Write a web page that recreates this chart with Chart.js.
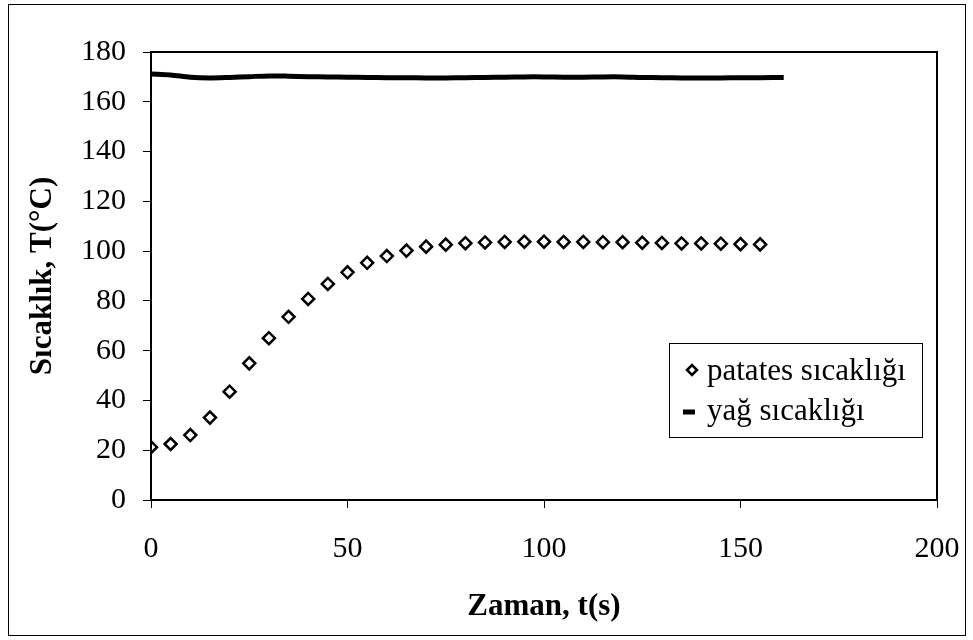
<!DOCTYPE html>
<html>
<head>
<meta charset="utf-8">
<script src="https://cdn.jsdelivr.net/npm/chart.js@4.4.1/dist/chart.umd.min.js"></script>
<style>
  html, body { margin: 0; background: #fff; }
  #wrap { width: 973px; height: 640px; }
</style>
</head>
<body>
<div id="wrap"><canvas id="tempChart" width="973" height="640"></canvas></div>
<script>
// Potato core temperature, sampled every 5 s
const potatoTime = [0, 5, 10, 15, 20, 25, 30, 35, 40, 45, 50, 55, 60, 65, 70, 75,
                    80, 85, 90, 95, 100, 105, 110, 115, 120, 125, 130, 135, 140, 145, 150, 155];
const potatoTemp = [21.2, 22.5, 26.1, 33.1, 43.5, 54.9, 65.0, 73.6, 80.8, 86.8, 91.5, 95.3, 98.0, 100.2, 101.8, 102.6,
                    103.2, 103.5, 103.7, 103.8, 103.8, 103.7, 103.7, 103.6, 103.6, 103.4, 103.3, 103.1, 103.1, 103.0, 102.8, 102.7];

// Frying oil temperature
const oilTime = [0, 5, 10, 15, 20, 25, 30, 35, 40, 45, 50, 55, 60, 65, 70, 75, 80,
                 85, 90, 95, 100, 105, 110, 115, 120, 125, 130, 135, 140, 145, 150, 155, 161];
const oilTemp = [171.2, 170.8, 169.9, 169.6, 169.8, 170.1, 170.4, 170.3, 170.1, 170.0, 169.9, 169.8, 169.7, 169.7, 169.6, 169.6, 169.7,
                 169.8, 169.9, 170.0, 170.0, 169.9, 169.9, 170.0, 170.0, 169.8, 169.7, 169.6, 169.6, 169.6, 169.7, 169.7, 169.8];

const xTicks = [0, 50, 100, 150, 200];
const yTicks = [0, 20, 40, 60, 80, 100, 120, 140, 160, 180];

const labels = ['patates sıcaklığı', 'yağ sıcaklığı'];

const serif = "'Liberation Serif', 'Times New Roman', serif";

// Frame around the plot area, the outer border and the boxed legend
const framePlugin = {
    id: 'frame',
    afterDatasetsDraw(chart) {
        const { ctx, chartArea: a } = chart;
        ctx.save();
        ctx.strokeStyle = '#000';
        ctx.lineWidth = 2;
        ctx.strokeRect(a.left, a.top, a.right - a.left, a.bottom - a.top);
        ctx.restore();
    },
    afterDraw(chart) {
        const ctx = chart.ctx;
        ctx.save();
        ctx.strokeStyle = '#000';
        ctx.lineWidth = 1;
        ctx.strokeRect(8.5, 4.5, 957, 631);

        // legend box
        ctx.strokeRect(669.5, 343.5, 253, 94);
        ctx.fillStyle = '#000';
        ctx.font = '31px ' + serif;
        ctx.textBaseline = 'middle';
        ctx.fillText(chart.data.datasets[0].label, 707, 372);
        ctx.fillText(chart.data.datasets[1].label, 707, 412);

        // diamond marker
        const dx = 692, dy = 370, r = 5;
        ctx.lineWidth = 2.5;
        ctx.beginPath();
        ctx.moveTo(dx - r, dy);
        ctx.lineTo(dx, dy - r);
        ctx.lineTo(dx + r, dy);
        ctx.lineTo(dx, dy + r);
        ctx.closePath();
        ctx.stroke();

        // line marker
        ctx.lineWidth = 5;
        ctx.beginPath();
        ctx.moveTo(683, 412);
        ctx.lineTo(695, 412);
        ctx.stroke();
        ctx.restore();
    }
};

const ctx = document.getElementById('tempChart').getContext('2d');
const tempChart = new Chart(ctx, {
    type: 'scatter',
    data: {
        datasets: [{
            label: labels[0],
            data: potatoTime.map((t, i) => ({ x: t, y: potatoTemp[i] })),
            showLine: false,
            pointStyle: 'rectRot',
            pointRadius: 6,
            pointHoverRadius: 6,
            borderWidth: 2.5,
            borderColor: '#000',
            backgroundColor: '#fff'
        }, {
            label: labels[1],
            data: oilTime.map((t, i) => ({ x: t, y: oilTemp[i] })),
            showLine: true,
            pointRadius: 0,
            borderWidth: 5,
            borderColor: '#000',
            tension: 0.3
        }]
    },
    options: {
        responsive: false,
        animation: false,
        devicePixelRatio: 1,
        layout: { padding: { left: 0, top: 52, right: 36, bottom: 0 } },
        plugins: {
            legend: { display: false },
            tooltip: { enabled: false }
        },
        scales: {
            x: {
                type: 'linear',
                min: 0,
                max: 200,
                afterBuildTicks: s => { s.ticks = xTicks.map(v => ({ value: v })); },
                afterFit: s => { s.height = 140; s.paddingLeft = 0; s.paddingRight = 0; },
                grid: { drawOnChartArea: false, tickLength: 8, color: '#000' },
                border: { color: '#000', width: 2 },
                ticks: { color: '#000', font: { family: serif, size: 30 }, padding: 23, maxRotation: 0 },
                title: {
                    display: true,
                    text: 'Zaman, t(s)',
                    color: '#000',
                    font: { family: serif, size: 31, weight: 'bold' },
                    padding: { top: 0, bottom: 14 }
                }
            },
            y: {
                min: 0,
                max: 180,
                afterBuildTicks: s => { s.ticks = yTicks.map(v => ({ value: v })); },
                afterFit: s => { s.width = 151; s.paddingTop = 0; s.paddingBottom = 0; },
                grid: { drawOnChartArea: false, tickLength: 8, color: '#000' },
                border: { color: '#000', width: 2 },
                ticks: { color: '#000', font: { family: serif, size: 30 }, padding: 17 },
                title: {
                    display: true,
                    text: 'Sıcaklık, T(°C)',
                    color: '#000',
                    font: { family: serif, size: 31, weight: 'bold' },
                    padding: { top: 24, bottom: 0 }
                }
            }
        }
    },
    plugins: [framePlugin]
});
</script>
</body>
</html>
